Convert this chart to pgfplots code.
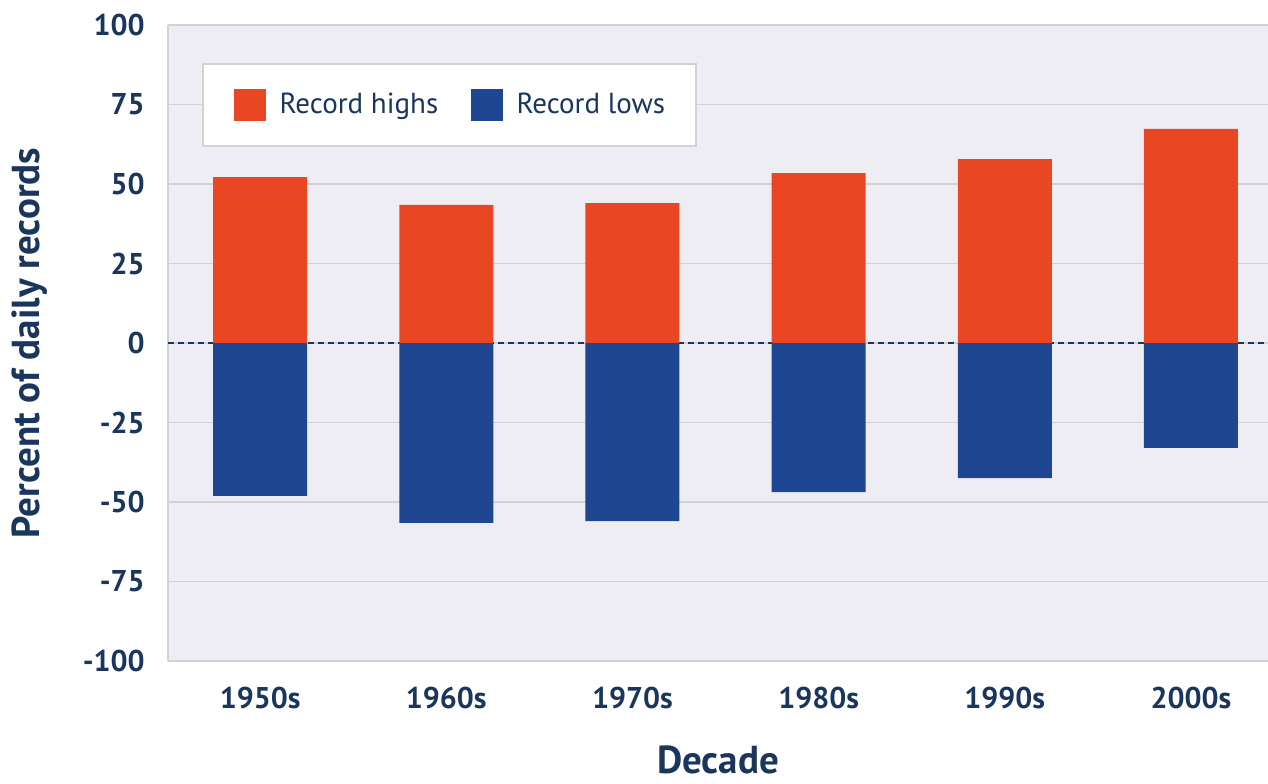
\documentclass[border=0pt]{standalone}
\usepackage{pgfplots}
\pgfplotsset{compat=1.18}
\usepackage{fontspec}
\setmainfont{PT Sans}
\definecolor{hi}{HTML}{E94623}
\definecolor{lo}{HTML}{1F4690}
\definecolor{bg}{HTML}{EFEDF4}
\definecolor{txt}{HTML}{1B365D}
\definecolor{gridc}{HTML}{D2D1D6}
\begin{document}
\begin{tikzpicture}
\begin{axis}[
  scale only axis, width=550pt, height=318pt,
  xmin=-0.495, xmax=5.414, ymin=-100, ymax=100,
  axis background/.style={fill=bg},
  axis lines*=left,
  axis line style={draw=gridc, line width=1pt},
  ytick={-100,-75,...,100},
  yticklabels={-100,-75,-50,-25,0,25,50,75,100},
  xtick={0,1,2,3,4,5},
  xticklabels={1950s,1960s,1970s,1980s,1990s,2000s},
  major tick length=0pt,
  ymajorgrids, grid style={draw=gridc, line width=0.75pt},
  yticklabel style={font=\fontsize{15}{17}\selectfont\bfseries, text=txt, anchor=east, inner sep=0pt, xshift=-11.5pt},
  xticklabel style={font=\fontsize{15}{17}\selectfont\bfseries, text=txt, anchor=center, inner sep=0pt, yshift=-18.5pt},
  ylabel={Percent of daily records},
  xlabel={Decade},
  every axis y label/.style={at={(axis description cs:-0.1255,0.5)}, rotate=90, anchor=center, font=\fontsize{19.5}{22}\selectfont\bfseries, text=txt},
  every axis x label/.style={at={(axis description cs:0.5,-0.1560)}, anchor=center, inner sep=0pt, font=\fontsize{19.5}{22}\selectfont\bfseries, text=txt},
  ybar, bar width=47pt, bar shift=0pt,
  legend columns=2,
  legend image code/.code={\path (0pt,0pt); \fill[#1] (2pt,-8pt) rectangle (18pt,8pt);},
  legend style={at={(0.0309,0.9403)}, anchor=north west, draw=gridc, line width=1pt, fill=white,
    font=\fontsize{14.5}{16}\selectfont, text=txt, inner xsep=13.5pt, inner ysep=12.5pt,
    /tikz/every odd column/.append style={column sep=4.8pt},
    /tikz/every even column/.append style={column sep=12.3pt}},
]
\addplot[sharp plot, forget plot, draw=txt, line width=0.6pt, dash pattern=on 3pt off 2pt] coordinates {(-0.495,0) (5.414,0)};
\addplot[fill=hi, draw=none] coordinates {(0,52.2) (1,43.4) (2,44.0) (3,53.4) (4,57.8) (5,67.3)};
\addplot[fill=lo, draw=none] coordinates {(0,-48.1) (1,-56.6) (2,-56.0) (3,-46.9) (4,-42.5) (5,-33.0)};
\legend{Record highs, Record lows}
\end{axis}
\pgfresetboundingbox
\path[use as bounding box] ([xshift=-84pt,yshift=-61pt]current axis.south west) rectangle ([yshift=12.5pt]current axis.north east);
\end{tikzpicture}
\end{document}
